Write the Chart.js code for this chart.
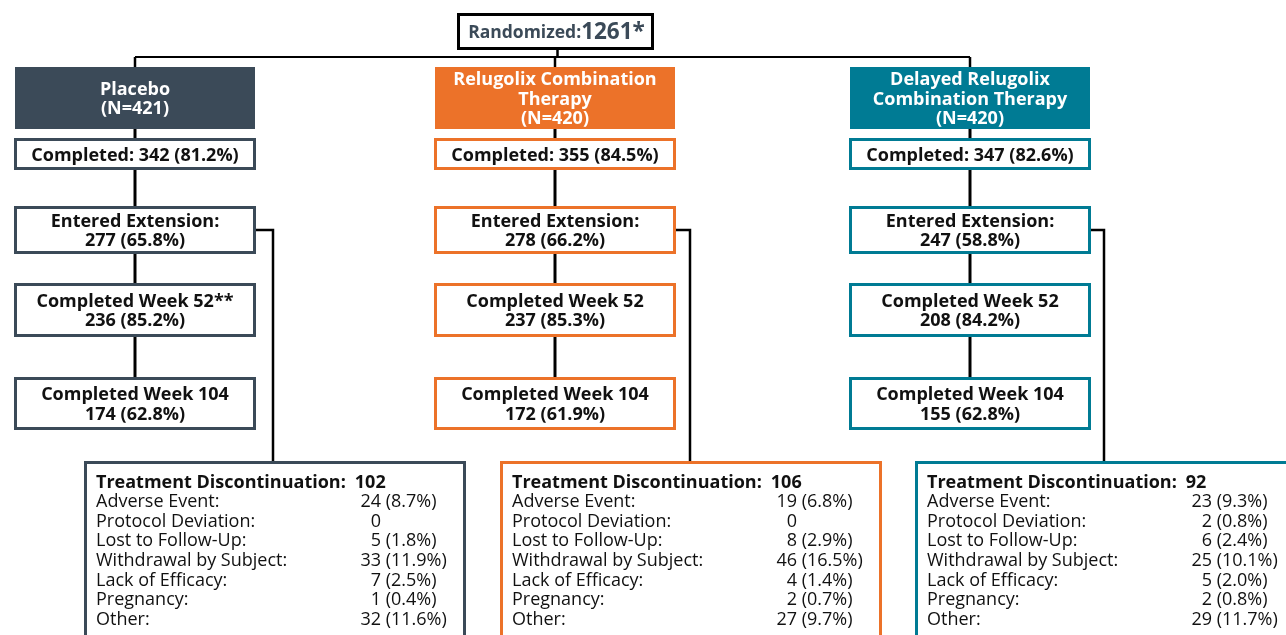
<!DOCTYPE html>
<html>
<head>
<meta charset="utf-8">
<script src="https://cdn.jsdelivr.net/npm/chart.js@4/dist/chart.umd.min.js"></script>
<style>
html,body{margin:0;padding:0;background:#fff;}
#wrap{width:1286px;height:635px;}
</style>
</head>
<body>
<div id="wrap"><canvas id="c" width="1286" height="635"></canvas></div>
<script>
// ---------- DATA ----------
const randomizedTotal = 1261;
const randomizedMark = '*';
const armTitleLines = [['Placebo'], ['Relugolix Combination', 'Therapy'], ['Delayed Relugolix', 'Combination Therapy']];
const armN = [421, 420, 420];
const completedN = [342, 355, 347];
const completedPct = [81.2, 84.5, 82.6];
const extensionN = [277, 278, 247];
const extensionPct = [65.8, 66.2, 58.8];
const week52N = [236, 237, 208];
const week52Pct = [85.2, 85.3, 84.2];
const week52Mark = ['**', '', ''];
const week104N = [174, 172, 155];
const week104Pct = [62.8, 61.9, 62.8];
const discontinuedN = [102, 106, 92];
const reasons = ['Adverse Event:', 'Protocol Deviation:', 'Lost to Follow-Up:', 'Withdrawal by Subject:', 'Lack of Efficacy:', 'Pregnancy:', 'Other:'];
const placeboReasonN = [24, 0, 5, 33, 7, 1, 32];
const placeboReasonPct = [8.7, null, 1.8, 11.9, 2.5, 0.4, 11.6];
const relugolixReasonN = [19, 0, 8, 46, 4, 2, 27];
const relugolixReasonPct = [6.8, null, 2.9, 16.5, 1.4, 0.7, 9.7];
const delayedReasonN = [23, 2, 6, 25, 5, 2, 29];
const delayedReasonPct = [9.3, 0.8, 2.4, 10.1, 2.0, 0.8, 11.7];
const reasonN = [placeboReasonN, relugolixReasonN, delayedReasonN];
const reasonPct = [placeboReasonPct, relugolixReasonPct, delayedReasonPct];

// ---------- STYLE / LAYOUT ----------
const armColors = ['#3b4a58', '#ec7229', '#007b94'];
const FONT = "'Open Sans', 'Noto Sans', sans-serif";
const FS = 18;
const TY = 1.5; // text baseline nudge
const L = {
  randBox: {x: 457, y: 13, w: 197, h: 37},
  busY: 57,
  boxLeft: [14, 434, 849], boxW: 242,
  header: {y: 67, h: 62},
  completed: {y: 138, h: 32},
  extension: {y: 206, h: 48},
  week52: {y: 283, h: 54},
  week104: {y: 377, h: 53},
  sideX: [273, 690, 1104], sideY: 230,
  discLeft: [84, 500, 915], discW: 382, discY: 461, discH: 200,
  discTitleY: 481, discStep: 19.6, discCountOff: 297
};

const fmt = (n, p) => p === null || p === undefined ? String(n) : n + ' (' + p.toFixed(1) + '%)';

const flowPlugin = {
  id: 'flow',
  afterDraw(chart) {
    const ctx = chart.ctx;
    const X = v => chart.scales.x.getPixelForValue(v);
    const Y = v => chart.scales.y.getPixelForValue(v);
    ctx.save();
    ctx.textBaseline = 'middle';

    const line = (pts, w) => {
      ctx.beginPath();
      ctx.strokeStyle = '#000';
      ctx.lineWidth = w || 2.5;
      ctx.moveTo(X(pts[0][0]), Y(pts[0][1]));
      for (let i = 1; i < pts.length; i++) ctx.lineTo(X(pts[i][0]), Y(pts[i][1]));
      ctx.stroke();
    };
    const box = (x, y, w, h, stroke, fill, lw) => {
      const x0 = X(x), y0 = Y(y), x1 = X(x + w), y1 = Y(y + h);
      ctx.fillStyle = fill;
      ctx.fillRect(x0, y0, x1 - x0, y1 - y0);
      if (stroke) {
        ctx.strokeStyle = stroke;
        ctx.lineWidth = lw || 3;
        ctx.strokeRect(x0 + ctx.lineWidth / 2, y0 + ctx.lineWidth / 2, x1 - x0 - ctx.lineWidth, y1 - y0 - ctx.lineWidth);
      }
    };
    const text = (s, x, y, opt) => {
      ctx.font = (opt.weight || 'bold') + ' ' + (opt.size || FS) + 'px ' + FONT;
      ctx.fillStyle = opt.color || '#111';
      ctx.textAlign = opt.align || 'center';
      ctx.fillText(s, X(x), Y(y + TY));
    };
    const centered = (lines, cx, y, h, color) => {
      const step = 19.5;
      const top = y + h / 2 - (lines.length - 1) * step / 2;
      lines.forEach((s, i) => text(s, cx, top + i * step, {color}));
    };

    const centers = L.boxLeft.map(b => b + L.boxW / 2);

    // connectors
    const rb = L.randBox;
    line([[rb.x + rb.w / 2 + 2, rb.y + rb.h], [rb.x + rb.w / 2 + 2, L.busY]]);
    line([[centers[0], L.busY], [centers[2], L.busY]], 2);
    centers.forEach((cx, i) => {
      line([[cx, L.busY], [cx, L.header.y]]);
      line([[cx, L.header.y + L.header.h], [cx, L.week104.y]], 3);
      line([[L.boxLeft[i] + L.boxW, L.sideY], [L.sideX[i], L.sideY], [L.sideX[i], L.discY]], 2.5);
    });

    // randomized box
    box(rb.x, rb.y, rb.w, rb.h, '#000', '#fff', 3);
    ctx.font = 'bold 17.5px ' + FONT;
    const w1 = ctx.measureText('Randomized:').width;
    ctx.font = 'bold 22.5px ' + FONT;
    const w2 = ctx.measureText(randomizedTotal + randomizedMark).width;
    const sx = rb.x + rb.w / 2 + 1 - (w1 + w2) / 2;
    text('Randomized:', sx, rb.y + rb.h / 2 + 0.5, {align: 'left', color: '#3b4a58', size: 17.5});
    text(randomizedTotal + randomizedMark, sx + w1, rb.y + rb.h / 2 - 0.5, {align: 'left', color: '#3b4a58', size: 22.5});

    centers.forEach((cx, i) => {
      const bx = L.boxLeft[i], col = armColors[i];
      // header
      box(bx + 1, L.header.y, L.boxW - 2, L.header.h, null, col);
      centered(armTitleLines[i].concat(['(N=' + armN[i] + ')']), cx, L.header.y, L.header.h, '#fff');
      // stage boxes
      box(bx, L.completed.y, L.boxW, L.completed.h, col, '#fff');
      centered(['Completed: ' + fmt(completedN[i], completedPct[i])], cx, L.completed.y, L.completed.h);
      box(bx, L.extension.y, L.boxW, L.extension.h, col, '#fff');
      centered(['Entered Extension:', fmt(extensionN[i], extensionPct[i])], cx, L.extension.y, L.extension.h);
      box(bx, L.week52.y, L.boxW, L.week52.h, col, '#fff');
      centered(['Completed Week 52' + week52Mark[i], fmt(week52N[i], week52Pct[i])], cx, L.week52.y, L.week52.h);
      box(bx, L.week104.y, L.boxW, L.week104.h, col, '#fff');
      centered(['Completed Week 104', fmt(week104N[i], week104Pct[i])], cx, L.week104.y, L.week104.h);

      // discontinuation box
      const dx = L.discLeft[i];
      box(dx, L.discY, L.discW, L.discH, col, '#fff');
      const tx = dx + 12;
      ctx.font = 'bold ' + FS + 'px ' + FONT;
      const tw = ctx.measureText('Treatment Discontinuation:').width;
      text('Treatment Discontinuation:', tx, L.discTitleY, {align: 'left'});
      text(String(discontinuedN[i]), tx + tw + 9, L.discTitleY, {align: 'left'});
      reasons.forEach((r, k) => {
        const y = L.discTitleY + (k + 1) * L.discStep;
        text(r, tx, y, {align: 'left', weight: 'normal'});
        const cxr = dx + L.discCountOff;
        text(String(reasonN[i][k]), cxr, y, {align: 'right', weight: 'normal'});
        const p = reasonPct[i][k];
        if (p !== null) text(' (' + p.toFixed(1) + '%)', cxr, y, {align: 'left', weight: 'normal'});
      });
    });
    ctx.restore();
  }
};

new Chart(document.getElementById('c'), {
  type: 'scatter',
  data: {datasets: [{data: [], pointRadius: 0}]},
  options: {
    responsive: false,
    animation: false,
    layout: {padding: 0},
    plugins: {legend: {display: false}, tooltip: {enabled: false}},
    scales: {
      x: {type: 'linear', min: 0, max: 1286, display: false},
      y: {type: 'linear', min: 0, max: 635, reverse: true, display: false}
    }
  },
  plugins: [flowPlugin]
});
</script>
</body>
</html>
